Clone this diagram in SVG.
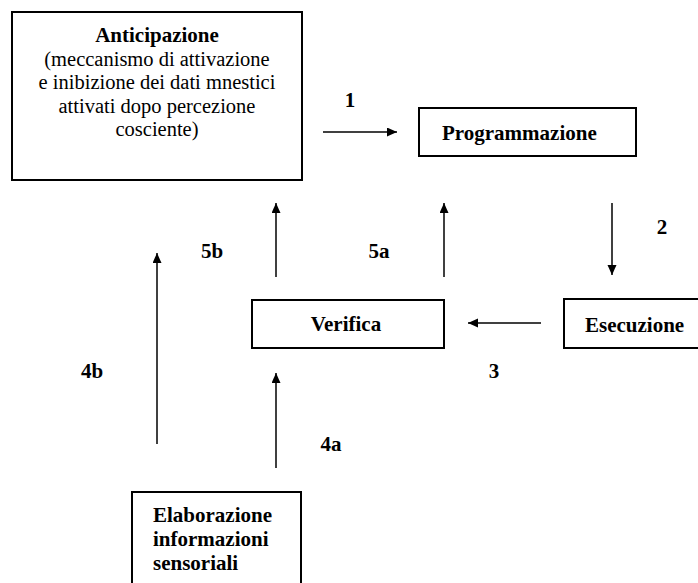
<svg xmlns="http://www.w3.org/2000/svg" width="698" height="583" viewBox="0 0 698 583">
<style>
.box{fill:#fff;stroke:#000;stroke-width:2}
text{fill:#000;font-family:'Liberation Serif',serif !important}
.b{font-weight:bold;font-size:21px}
.r{font-size:20.5px}
.c{text-anchor:middle}
.con line{stroke:#000;stroke-width:1.5;marker-end:url(#ah)}
</style>
<defs>
<marker id="ah" markerUnits="userSpaceOnUse" markerWidth="11" markerHeight="10" refX="10" refY="4.5" orient="auto">
<path d="M0,0 L10,4.5 L0,9 z" fill="#000"/>
</marker>
</defs>
<rect width="698" height="583" fill="#fff"/>
<g id="anticipazione">
<rect class="box" x="12" y="12" width="290" height="168"/>
<text class="b c" x="157" y="42" font-family="Liberation Serif" style="font-family:'Liberation Serif'">Anticipazione</text>
<text class="r c" x="157" y="66" font-family="Liberation Serif" style="font-family:'Liberation Serif'">(meccanismo di attivazione</text>
<text class="r c" x="157" y="89" font-family="Liberation Serif" style="font-family:'Liberation Serif'">e inibizione dei dati mnestici</text>
<text class="r c" x="157" y="113" font-family="Liberation Serif" style="font-family:'Liberation Serif'">attivati dopo percezione</text>
<text class="r c" x="157" y="136" font-family="Liberation Serif" style="font-family:'Liberation Serif'">cosciente)</text>
</g>
<g id="programmazione">
<rect class="box" x="419" y="108" width="217" height="48"/>
<text class="b" x="442" y="140" font-family="Liberation Serif" style="font-family:'Liberation Serif'">Programmazione</text>
</g>
<g id="verifica">
<rect class="box" x="252" y="300" width="192" height="48"/>
<text class="b c" x="346" y="331" font-family="Liberation Serif" style="font-family:'Liberation Serif'">Verifica</text>
</g>
<g id="esecuzione">
<rect class="box" x="564" y="299" width="140" height="49"/>
<text class="b" x="585" y="332" font-family="Liberation Serif" style="font-family:'Liberation Serif'">Esecuzione</text>
</g>
<g id="elaborazione">
<rect class="box" x="132" y="492" width="169" height="120"/>
<text class="b" x="153" y="522" font-family="Liberation Serif" style="font-family:'Liberation Serif'">Elaborazione</text>
<text class="b" x="153" y="546" font-family="Liberation Serif" style="font-family:'Liberation Serif'">informazioni</text>
<text class="b" x="153" y="570" font-family="Liberation Serif" style="font-family:'Liberation Serif'">sensoriali</text>
</g>
<g id="connectors" class="con">
<line x1="323" y1="132" x2="397" y2="132"/>
<line x1="612" y1="203" x2="612" y2="275"/>
<line x1="541" y1="323" x2="468" y2="323"/>
<line x1="276" y1="468" x2="276" y2="373"/>
<line x1="157" y1="444" x2="157" y2="253"/>
<line x1="444" y1="277" x2="444" y2="203"/>
<line x1="276" y1="277" x2="276" y2="203"/>
</g>
<g id="labels">
<text class="b c" x="350" y="107" font-family="Liberation Serif" style="font-family:'Liberation Serif'">1</text>
<text class="b c" x="662" y="234" font-family="Liberation Serif" style="font-family:'Liberation Serif'">2</text>
<text class="b c" x="494" y="378" font-family="Liberation Serif" style="font-family:'Liberation Serif'">3</text>
<text class="b c" x="331" y="451" font-family="Liberation Serif" style="font-family:'Liberation Serif'">4a</text>
<text class="b c" x="92" y="378" font-family="Liberation Serif" style="font-family:'Liberation Serif'">4b</text>
<text class="b c" x="379" y="258" font-family="Liberation Serif" style="font-family:'Liberation Serif'">5a</text>
<text class="b c" x="212" y="258" font-family="Liberation Serif" style="font-family:'Liberation Serif'">5b</text>
</g>
</svg>
